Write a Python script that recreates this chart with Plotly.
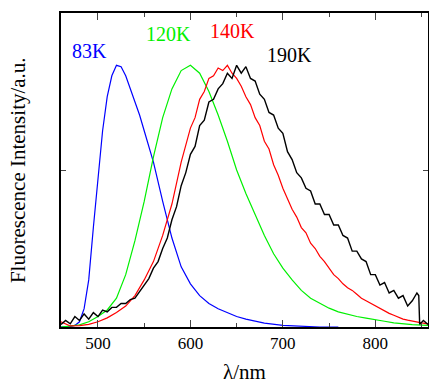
import plotly.graph_objects as go

# wavelength grids (nm) and normalized intensities
wl_83K = [460, 470, 475, 480, 485, 490, 495, 500, 505, 510, 515, 520, 525, 530, 535, 540, 545, 550,
          555, 560, 570, 580, 590, 600, 610, 620, 630, 640, 650, 660, 680, 700, 720, 740, 760]
int_83K = [0.0, 0.002, 0.006, 0.02, 0.07, 0.18, 0.38, 0.56, 0.75, 0.88, 0.96, 1.0, 0.995, 0.96, 0.91,
           0.86, 0.81, 0.75, 0.69, 0.63, 0.48, 0.34, 0.23, 0.165, 0.12, 0.09, 0.07, 0.055, 0.04, 0.03,
           0.015, 0.006, 0.002, 0.0, 0.0]

wl_120K = [460, 470, 480, 490, 500, 510, 520, 530, 540, 550, 560, 570, 580, 590, 600, 610, 620, 630,
           640, 650, 660, 670, 680, 690, 700, 710, 720, 730, 740, 750, 760, 770, 780, 790, 800, 810,
           820, 830, 840, 850, 857]
int_120K = [0.0, 0.003, 0.008, 0.02, 0.04, 0.065, 0.11, 0.2, 0.33, 0.48, 0.65, 0.8, 0.91, 0.98, 1.0,
            0.97, 0.9, 0.81, 0.71, 0.6, 0.51, 0.43, 0.35, 0.28, 0.225, 0.18, 0.14, 0.11, 0.09, 0.072,
            0.058, 0.048, 0.04, 0.034, 0.029, 0.022, 0.016, 0.012, 0.009, 0.007, 0.006]

wl_140K = [460, 465, 470, 480, 490, 500, 510, 520, 530, 540, 550, 560, 570, 580, 590, 600, 605, 610,
           615, 620, 625, 630, 635, 640, 645, 650, 655, 660, 665, 670, 675, 680, 685, 690, 695, 700,
           705, 710, 715, 720, 725, 730, 735, 740, 745, 750, 755, 760, 765, 770, 775, 780, 785, 790,
           795, 800, 805, 810, 815, 820, 825, 830, 835, 840, 845, 850, 857]
int_140K = [0.02, 0.012, 0.004, 0.005, 0.01, 0.02, 0.035, 0.055, 0.08, 0.12, 0.18, 0.25, 0.35, 0.47,
            0.63, 0.76, 0.8, 0.87, 0.9, 0.95, 0.96, 0.99, 0.98, 1.0, 0.97, 0.95, 0.92, 0.88, 0.85,
            0.8, 0.77, 0.71, 0.68, 0.62, 0.58, 0.53, 0.49, 0.45, 0.42, 0.38, 0.36, 0.32, 0.3, 0.27,
            0.25, 0.225, 0.2, 0.185, 0.165, 0.15, 0.14, 0.125, 0.11, 0.1, 0.09, 0.08, 0.07, 0.06,
            0.052, 0.045, 0.037, 0.03, 0.026, 0.022, 0.018, 0.016, 0.012]

wl_190K = [460, 465, 470, 475, 480, 485, 490, 495, 500, 505, 510, 515, 520, 525, 530, 535, 540, 545,
           550, 555, 560, 565, 570, 575, 580, 585, 590, 595, 600, 605, 610, 615, 620, 625, 630, 635,
           640, 645, 650, 655, 660, 665, 670, 675, 680, 685, 690, 695, 700, 705, 710, 715, 720, 725,
           730, 735, 740, 745, 750, 755, 760, 765, 770, 775, 780, 785, 790, 795, 800, 805, 810, 815,
           820, 825, 830, 835, 840, 845, 847, 848, 852, 857]
int_190K = [0.01, 0.025, 0.012, 0.04, 0.025, 0.05, 0.03, 0.055, 0.04, 0.065, 0.058, 0.075, 0.075, 0.09,
            0.09, 0.105, 0.11, 0.135, 0.16, 0.185, 0.225, 0.25, 0.3, 0.34, 0.41, 0.46, 0.54, 0.59,
            0.66, 0.69, 0.77, 0.79, 0.86, 0.87, 0.91, 0.93, 0.97, 0.95, 1.0, 0.97, 0.995, 0.95,
            0.94, 0.89, 0.87, 0.82, 0.81, 0.76, 0.74, 0.67, 0.64, 0.59, 0.57, 0.53, 0.52, 0.47,
            0.47, 0.43, 0.43, 0.39, 0.39, 0.35, 0.34, 0.29, 0.29, 0.26, 0.25, 0.2, 0.2, 0.16, 0.17,
            0.13, 0.14, 0.11, 0.12, 0.08, 0.1, 0.13, 0.12, 0.01, 0.025, 0.01]

series = [
    ("83K", wl_83K, int_83K, "#0000ff", 1.2),
    ("120K", wl_120K, int_120K, "#00f000", 1.2),
    ("140K", wl_140K, int_140K, "#ff0000", 1.2),
    ("190K", wl_190K, int_190K, "#000000", 1.4),
]

# curve labels (data coords)
label_names = ["83K", "120K", "140K", "190K"]
label_x = [491, 576, 645.5, 707]
label_y = [1.055, 1.118, 1.131, 1.039]
label_colors = ["#0000ff", "#00f000", "#ff0000", "#000000"]

font = "Liberation Serif"

fig = go.Figure()
for name, x, y, c, w in series:
    fig.add_trace(go.Scatter(x=x, y=y, mode="lines", name=name,
                             line=dict(color=c, width=w), showlegend=False))

for t, x, y, c in zip(label_names, label_x, label_y, label_colors):
    fig.add_annotation(x=x, y=y, text=t, showarrow=False,
                       font=dict(family=font, size=20, color=c))

# axis titles
fig.add_annotation(x=0.5, y=-0.143, xref="paper", yref="paper", text="λ/nm", showarrow=False,
                   xanchor="center", yanchor="middle", font=dict(family=font, size=21))
fig.add_annotation(x=-0.117, y=0.50, xref="paper", yref="paper", text="Fluorescence Intensity/a.u.",
                   showarrow=False, textangle=-90, xanchor="center", yanchor="middle",
                   font=dict(family=font, size=21))

fig.update_layout(
    width=429, height=385,
    margin=dict(l=61, r=1, t=13, b=58, autoexpand=False),
    plot_bgcolor="white", paper_bgcolor="white",
    font=dict(family=font, size=17, color="black"),
    xaxis=dict(range=[460, 857], tickvals=[500, 600, 700, 800], ticks="inside", ticklen=7,
               tickwidth=1.2, showline=True, linecolor="black", linewidth=1.5, mirror="ticks",
               showgrid=False, zeroline=False, automargin=False,
               minor=dict(tickvals=[550, 650, 750, 850], ticks="inside", ticklen=4, tickwidth=1.2,
                          showgrid=False),
               tickfont=dict(family=font, size=17)),
    yaxis=dict(range=[0, 1.2], tickvals=[0.6], ticks="inside", ticklen=5, tickwidth=1.2,
               showticklabels=False, showline=True, linecolor="black", linewidth=1.5,
               mirror="ticks", showgrid=False, zeroline=False, automargin=False),
)

fig.write_html("out.html", config={"displayModeBar": False},
               post_script="document.body.style.margin='0';document.body.style.padding='0';")
